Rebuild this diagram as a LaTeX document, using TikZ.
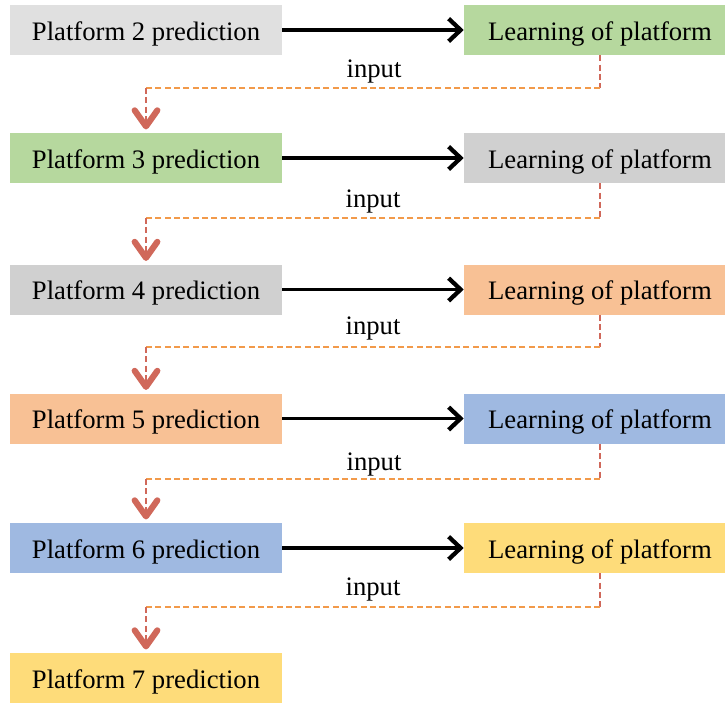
\documentclass[tikz,border=0pt]{standalone}
\usepackage{fontspec}
\setmainfont{Liberation Serif}
\usetikzlibrary{arrows.meta, calc}

\definecolor{boxgrayA}{HTML}{E0E0E0}
\definecolor{boxgrayB}{HTML}{D0D0D0}
\definecolor{boxgreen}{HTML}{B6D89E}
\definecolor{boxorange}{HTML}{F8C195}
\definecolor{boxblue}{HTML}{9FB9E1}
\definecolor{boxyellow}{HTML}{FEDC7A}
\definecolor{feedred}{HTML}{D0685A}
\definecolor{feedorange}{HTML}{F29A4A}

\tikzset{
    stage/.style={minimum width=204pt, minimum height=37.5pt, inner sep=0pt,
        text height=19pt, text depth=4pt, font=\fontsize{20}{24}\selectfont},
    flow/.style={line width=2.5pt, -{Straight Barb[length=9pt, width=17pt, line width=3.2pt]}},
    feeddown/.style={feedred, line width=1.5pt, dash pattern=on 4.5pt off 2.5pt},
    feedacross/.style={feedorange, line width=1.5pt, dash pattern=on 4.5pt off 2.5pt},
    feedtip/.style={-{Straight Barb[round, length=12pt, width=17pt, line width=4.6pt]}, shorten >=2.5pt},
    lbl/.style={font=\fontsize{20}{24}\selectfont, inner sep=0pt}
}

\begin{document}
\begin{tikzpicture}[x=0.75pt, y=-0.75pt]
    \useasboundingbox (0,0) rectangle (725,703);
    \clip (0,0) rectangle (725,703);

    % prediction column
    \node[stage, fill=boxgrayA]  (p2) at (146,30)    {Platform 2 prediction};
    \node[stage, fill=boxgreen]  (p3) at (146,158)   {Platform 3 prediction};
    \node[stage, fill=boxgrayB]  (p4) at (146,289.5) {Platform 4 prediction};
    \node[stage, fill=boxorange] (p5) at (146,418.5) {Platform 5 prediction};
    \node[stage, fill=boxblue]   (p6) at (146,548)   {Platform 6 prediction};
    \node[stage, fill=boxyellow] (p7) at (146,678)   {Platform 7 prediction};

    % learning column
    \node[stage, fill=boxgreen]  (l2) at (600,30)    {Learning of platform};
    \node[stage, fill=boxgrayB]  (l3) at (600,158)   {Learning of platform};
    \node[stage, fill=boxorange] (l4) at (600,289.5) {Learning of platform};
    \node[stage, fill=boxblue]   (l5) at (600,418.5) {Learning of platform};
    \node[stage, fill=boxyellow] (l6) at (600,548)   {Learning of platform};

    \draw[flow] (p2) -- (l2);
    \draw[flow] (p3) -- (l3);
    \draw[flow] (p4) -- (l4);
    \draw[flow] (p5) -- (l5);
    \draw[flow] (p6) -- (l6);

    % feedback loops
    \coordinate (a2) at (600,88);  \coordinate (b2) at (146,88);
    \coordinate (a3) at (600,218); \coordinate (b3) at (146,218);
    \coordinate (a4) at (600,347); \coordinate (b4) at (146,347);
    \coordinate (a5) at (600,479); \coordinate (b5) at (146,479);
    \coordinate (a6) at (600,607); \coordinate (b6) at (146,607);

    \draw[feeddown] (l2.south) -- (a2);
    \draw[feedacross] (a2) -- (b2);
    \draw[feeddown, feedtip] (b2) -- (p3.north);
    \node[lbl] (i2) at (374,72) {input};

    \draw[feeddown] (l3.south) -- (a3);
    \draw[feedacross] (a3) -- (b3);
    \draw[feeddown, feedtip] (b3) -- (p4.north);
    \node[lbl] (i3) at (373,202) {input};

    \draw[feeddown] (l4.south) -- (a4);
    \draw[feedacross] (a4) -- (b4);
    \draw[feeddown, feedtip] (b4) -- (p5.north);
    \node[lbl] (i4) at (373,329) {input};

    \draw[feeddown] (l5.south) -- (a5);
    \draw[feedacross] (a5) -- (b5);
    \draw[feeddown, feedtip] (b5) -- (p6.north);
    \node[lbl] (i5) at (374,465) {input};

    \draw[feeddown] (l6.south) -- (a6);
    \draw[feedacross] (a6) -- (b6);
    \draw[feeddown, feedtip] (b6) -- (p7.north);
    \node[lbl] (i6) at (373,590) {input};
\end{tikzpicture}
\end{document}
